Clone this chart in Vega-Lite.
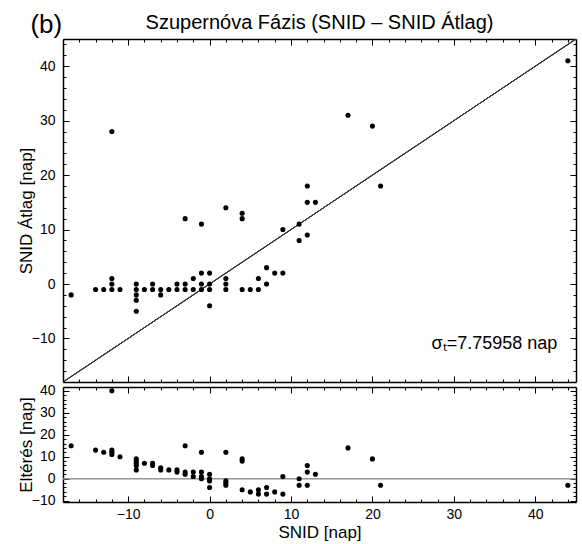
{
  "$schema": "https://vega.github.io/schema/vega-lite/v6.json",
  "background": "white",
  "padding": {"left": 17, "top": 12, "right": 5, "bottom": 4},
  "spacing": 0,
  "config": {
    "font": "Liberation Sans",
    "view": {"stroke": null},
    "axis": {
      "grid": false,
      "labelFont": "Liberation Sans",
      "titleFont": "Liberation Sans",
      "labelColor": "black",
      "titleColor": "black",
      "tickColor": "black",
      "domainColor": "black",
      "labelFontSize": 14,
      "titleFontSize": 17,
      "titleFontWeight": "normal",
      "tickWidth": 1,
      "domainWidth": 1.5
    }
  },
  "datasets": {
    "main": [
      {"snid": -17, "avg": -2}, {"snid": -14, "avg": -1}, {"snid": -13, "avg": -1},
      {"snid": -12, "avg": 28}, {"snid": -12, "avg": 1}, {"snid": -12, "avg": 0}, {"snid": -12, "avg": -1},
      {"snid": -11, "avg": -1},
      {"snid": -9, "avg": 0}, {"snid": -9, "avg": -1}, {"snid": -9, "avg": -2}, {"snid": -9, "avg": -3}, {"snid": -9, "avg": -5},
      {"snid": -8, "avg": -1}, {"snid": -7, "avg": 0}, {"snid": -7, "avg": -1},
      {"snid": -6, "avg": -1}, {"snid": -6, "avg": -2}, {"snid": -5, "avg": -1},
      {"snid": -4, "avg": 0}, {"snid": -4, "avg": -1},
      {"snid": -3, "avg": 12}, {"snid": -3, "avg": 0}, {"snid": -3, "avg": -1},
      {"snid": -2, "avg": 1}, {"snid": -2, "avg": -1},
      {"snid": -1, "avg": 11}, {"snid": -1, "avg": 2}, {"snid": -1, "avg": 0}, {"snid": -1, "avg": -1},
      {"snid": 0, "avg": 2}, {"snid": 0, "avg": 0}, {"snid": 0, "avg": -1}, {"snid": 0, "avg": -4},
      {"snid": 2, "avg": 14}, {"snid": 2, "avg": 1}, {"snid": 2, "avg": 0}, {"snid": 2, "avg": -1},
      {"snid": 4, "avg": 13}, {"snid": 4, "avg": 12}, {"snid": 4, "avg": -1},
      {"snid": 5, "avg": -1}, {"snid": 6, "avg": 1}, {"snid": 6, "avg": -1},
      {"snid": 7, "avg": 3}, {"snid": 7, "avg": 0}, {"snid": 8, "avg": 2},
      {"snid": 9, "avg": 10}, {"snid": 9, "avg": 2},
      {"snid": 11, "avg": 11}, {"snid": 11, "avg": 8},
      {"snid": 12, "avg": 18}, {"snid": 12, "avg": 15}, {"snid": 12, "avg": 9},
      {"snid": 13, "avg": 15}, {"snid": 17, "avg": 31}, {"snid": 20, "avg": 29},
      {"snid": 21, "avg": 18}, {"snid": 44, "avg": 41}
    ],
    "resid": [
      {"snid": -17, "diff": 15}, {"snid": -14, "diff": 13}, {"snid": -13, "diff": 12},
      {"snid": -12, "diff": 40}, {"snid": -12, "diff": 13}, {"snid": -12, "diff": 12}, {"snid": -12, "diff": 11},
      {"snid": -11, "diff": 10},
      {"snid": -9, "diff": 9}, {"snid": -9, "diff": 8}, {"snid": -9, "diff": 7}, {"snid": -9, "diff": 6}, {"snid": -9, "diff": 4},
      {"snid": -8, "diff": 7}, {"snid": -7, "diff": 7}, {"snid": -7, "diff": 6},
      {"snid": -6, "diff": 5}, {"snid": -6, "diff": 4}, {"snid": -5, "diff": 4},
      {"snid": -4, "diff": 4}, {"snid": -4, "diff": 3},
      {"snid": -3, "diff": 15}, {"snid": -3, "diff": 3}, {"snid": -3, "diff": 2},
      {"snid": -2, "diff": 3}, {"snid": -2, "diff": 1},
      {"snid": -1, "diff": 12}, {"snid": -1, "diff": 3}, {"snid": -1, "diff": 1}, {"snid": -1, "diff": 0},
      {"snid": 0, "diff": 2}, {"snid": 0, "diff": 0}, {"snid": 0, "diff": -1}, {"snid": 0, "diff": -4},
      {"snid": 2, "diff": 12}, {"snid": 2, "diff": -1}, {"snid": 2, "diff": -2}, {"snid": 2, "diff": -3},
      {"snid": 4, "diff": 9}, {"snid": 4, "diff": 8}, {"snid": 4, "diff": -5},
      {"snid": 5, "diff": -6}, {"snid": 6, "diff": -5}, {"snid": 6, "diff": -7},
      {"snid": 7, "diff": -4}, {"snid": 7, "diff": -7}, {"snid": 8, "diff": -6},
      {"snid": 9, "diff": 1}, {"snid": 9, "diff": -7},
      {"snid": 11, "diff": 0}, {"snid": 11, "diff": -3},
      {"snid": 12, "diff": 6}, {"snid": 12, "diff": 3}, {"snid": 12, "diff": -3},
      {"snid": 13, "diff": 2}, {"snid": 17, "diff": 14}, {"snid": 20, "diff": 9},
      {"snid": 21, "diff": -3}, {"snid": 44, "diff": -3}
    ],
    "diag": [{"snid": -18, "avg": -18}, {"snid": 45, "avg": 45}],
    "zero": [{"snid": -18, "diff": 0}, {"snid": 45, "diff": 0}]
  },
  "vconcat": [
    {
      "width": 513,
      "height": 343,
      "title": {"text": "Szupernóva Fázis (SNID – SNID Átlag)", "fontSize": 20, "fontWeight": "normal", "anchor": "middle", "frame": "group", "color": "black", "offset": 4, "dy": 25},
      "resolve": {"axis": {"x": "independent", "y": "independent"}},
      "layer": [
        {
          "data": {"name": "diag"},
          "mark": {"type": "line", "color": "#333333", "strokeWidth": 1, "clip": true},
          "encoding": {
            "x": {"field": "snid", "type": "quantitative", "scale": {"domain": [-18, 45], "nice": false, "zero": false},
                  "axis": {"orient": "bottom", "values": [-10, 0, 10, 20, 30, 40], "labels": false, "tickSize": -6, "title": null}},
            "y": {"field": "avg", "type": "quantitative", "scale": {"domain": [-18, 45], "nice": false, "zero": false},
                  "axis": {"orient": "left", "values": [-10, 0, 10, 20, 30, 40], "tickSize": -6, "labelPadding": 14, "title": "SNID Átlag [nap]", "titlePadding": -4}}
          }
        },
        {
          "data": {"name": "diag"},
          "mark": {"type": "line", "color": "#333333", "strokeWidth": 1, "clip": true},
          "encoding": {
            "x": {"field": "snid", "type": "quantitative", "scale": {"domain": [-18, 45], "nice": false, "zero": false},
                  "axis": {"orient": "bottom", "values": [-18,-16,-14,-12,-8,-6,-4,-2,2,4,6,8,12,14,16,18,22,24,26,28,32,34,36,38,42,44], "labels": false, "domain": false, "tickSize": -3, "title": null}},
            "y": {"field": "avg", "type": "quantitative", "scale": {"domain": [-18, 45], "nice": false, "zero": false},
                  "axis": {"orient": "left", "values": [-16,-14,-12,-8,-6,-4,-2,2,4,6,8,12,14,16,18,22,24,26,28,32,34,36,38,42,44], "labels": false, "domain": false, "tickSize": -3, "title": null}}
          }
        },
        {
          "data": {"name": "diag"},
          "mark": {"type": "line", "color": "#333333", "strokeWidth": 1, "clip": true},
          "encoding": {
            "x": {"field": "snid", "type": "quantitative", "scale": {"domain": [-18, 45], "nice": false, "zero": false},
                  "axis": {"orient": "top", "values": [-10, 0, 10, 20, 30, 40], "labels": false, "tickSize": -6, "title": null}},
            "y": {"field": "avg", "type": "quantitative", "scale": {"domain": [-18, 45], "nice": false, "zero": false},
                  "axis": {"orient": "right", "values": [-10, 0, 10, 20, 30, 40], "labels": false, "tickSize": -6, "title": null}}
          }
        },
        {
          "data": {"name": "diag"},
          "mark": {"type": "line", "color": "#333333", "strokeWidth": 1, "clip": true},
          "encoding": {
            "x": {"field": "snid", "type": "quantitative", "scale": {"domain": [-18, 45], "nice": false, "zero": false},
                  "axis": {"orient": "top", "values": [-18,-16,-14,-12,-8,-6,-4,-2,2,4,6,8,12,14,16,18,22,24,26,28,32,34,36,38,42,44], "labels": false, "domain": false, "tickSize": -3, "title": null}},
            "y": {"field": "avg", "type": "quantitative", "scale": {"domain": [-18, 45], "nice": false, "zero": false},
                  "axis": {"orient": "right", "values": [-16,-14,-12,-8,-6,-4,-2,2,4,6,8,12,14,16,18,22,24,26,28,32,34,36,38,42,44], "labels": false, "domain": false, "tickSize": -3, "title": null}}
          }
        },
        {
          "data": {"name": "main"},
          "mark": {"type": "circle", "size": 26, "color": "black", "opacity": 1},
          "encoding": {
            "x": {"field": "snid", "type": "quantitative", "scale": {"domain": [-18, 45], "nice": false, "zero": false}, "axis": null},
            "y": {"field": "avg", "type": "quantitative", "scale": {"domain": [-18, 45], "nice": false, "zero": false}, "axis": null}
          }
        },
        {
          "data": {"values": [{"label": "σₜ=7.75958 nap", "snid": 42.7, "avg": -11.9}]},
          "mark": {"type": "text", "align": "right", "baseline": "alphabetic", "fontSize": 18, "color": "black", "font": "Liberation Sans"},
          "encoding": {
            "x": {"field": "snid", "type": "quantitative", "scale": {"domain": [-18, 45], "nice": false, "zero": false}, "axis": null},
            "y": {"field": "avg", "type": "quantitative", "scale": {"domain": [-18, 45], "nice": false, "zero": false}, "axis": null},
            "text": {"field": "label"}
          }
        },
        {
          "data": {"values": [{"label": "(b)", "snid": -18.1, "avg": 46.1}]},
          "mark": {"type": "text", "align": "right", "baseline": "alphabetic", "fontSize": 26, "color": "black", "font": "Liberation Sans", "clip": false},
          "encoding": {
            "x": {"field": "snid", "type": "quantitative", "scale": {"domain": [-18, 45], "nice": false, "zero": false}, "axis": null},
            "y": {"field": "avg", "type": "quantitative", "scale": {"domain": [-18, 45], "nice": false, "zero": false}, "axis": null},
            "text": {"field": "label"}
          }
        }
      ]
    },
    {
      "width": 513,
      "height": 115,
      "resolve": {"axis": {"x": "independent", "y": "independent"}},
      "layer": [
        {
          "data": {"name": "zero"},
          "mark": {"type": "line", "color": "#999999", "strokeWidth": 1, "clip": true},
          "encoding": {
            "x": {"field": "snid", "type": "quantitative", "scale": {"domain": [-18, 45], "nice": false, "zero": false},
                  "axis": {"orient": "bottom", "values": [-10, 0, 10, 20, 30, 40], "tickSize": -6, "labelPadding": 11, "title": "SNID [nap]", "titlePadding": 3}},
            "y": {"field": "diff", "type": "quantitative", "scale": {"domain": [-10.6, 41.7], "nice": false, "zero": false},
                  "axis": {"orient": "left", "values": [-10, 0, 10, 20, 30, 40], "tickSize": -6, "labelPadding": 14, "title": "Eltérés [nap]", "titlePadding": -4}}
          }
        },
        {
          "data": {"name": "zero"},
          "mark": {"type": "line", "color": "#999999", "strokeWidth": 1, "clip": true},
          "encoding": {
            "x": {"field": "snid", "type": "quantitative", "scale": {"domain": [-18, 45], "nice": false, "zero": false},
                  "axis": {"orient": "bottom", "values": [-18,-16,-14,-12,-8,-6,-4,-2,2,4,6,8,12,14,16,18,22,24,26,28,32,34,36,38,42,44], "labels": false, "domain": false, "tickSize": -3, "title": null}},
            "y": {"field": "diff", "type": "quantitative", "scale": {"domain": [-10.6, 41.7], "nice": false, "zero": false},
                  "axis": {"orient": "left", "values": [-8,-6,-4,-2,2,4,6,8,12,14,16,18,22,24,26,28,32,34,36,38], "labels": false, "domain": false, "tickSize": -3, "title": null}}
          }
        },
        {
          "data": {"name": "zero"},
          "mark": {"type": "line", "color": "#999999", "strokeWidth": 1, "clip": true},
          "encoding": {
            "x": {"field": "snid", "type": "quantitative", "scale": {"domain": [-18, 45], "nice": false, "zero": false},
                  "axis": {"orient": "top", "values": [-10, 0, 10, 20, 30, 40], "labels": false, "tickSize": -6, "title": null}},
            "y": {"field": "diff", "type": "quantitative", "scale": {"domain": [-10.6, 41.7], "nice": false, "zero": false},
                  "axis": {"orient": "right", "values": [-10, 0, 10, 20, 30, 40], "labels": false, "tickSize": -6, "title": null}}
          }
        },
        {
          "data": {"name": "zero"},
          "mark": {"type": "line", "color": "#999999", "strokeWidth": 1, "clip": true},
          "encoding": {
            "x": {"field": "snid", "type": "quantitative", "scale": {"domain": [-18, 45], "nice": false, "zero": false},
                  "axis": {"orient": "top", "values": [-18,-16,-14,-12,-8,-6,-4,-2,2,4,6,8,12,14,16,18,22,24,26,28,32,34,36,38,42,44], "labels": false, "domain": false, "tickSize": -3, "title": null}},
            "y": {"field": "diff", "type": "quantitative", "scale": {"domain": [-10.6, 41.7], "nice": false, "zero": false},
                  "axis": {"orient": "right", "values": [-8,-6,-4,-2,2,4,6,8,12,14,16,18,22,24,26,28,32,34,36,38], "labels": false, "domain": false, "tickSize": -3, "title": null}}
          }
        },
        {
          "data": {"name": "resid"},
          "mark": {"type": "circle", "size": 26, "color": "black", "opacity": 1, "clip": false},
          "encoding": {
            "x": {"field": "snid", "type": "quantitative", "scale": {"domain": [-18, 45], "nice": false, "zero": false}, "axis": null},
            "y": {"field": "diff", "type": "quantitative", "scale": {"domain": [-10.6, 41.7], "nice": false, "zero": false}, "axis": null}
          }
        }
      ]
    }
  ]
}
